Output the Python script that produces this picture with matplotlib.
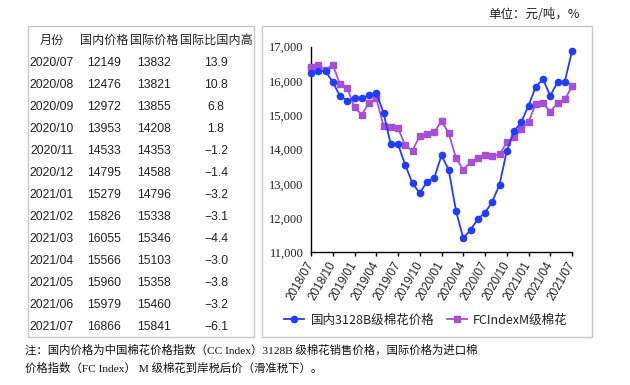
import matplotlib
matplotlib.use("Agg")
import matplotlib.pyplot as plt
from matplotlib.patches import Rectangle

# ---------------- data ----------------
months = [f"{y}/{m:02d}" for y, m in
          [(2018, m) for m in range(7, 13)] + [(2019, m) for m in range(1, 13)] +
          [(2020, m) for m in range(1, 13)] + [(2021, m) for m in range(1, 8)]]

domestic = [16220, 16280, 16300, 15960, 15570, 15415, 15500, 15500, 15580, 15660,
            15075, 14150, 14150, 13550, 13010, 12730, 13060, 13170, 13830, 13400,
            12205, 11410, 11650, 11970,
            12149, 12476, 12972, 13953, 14533, 14795, 15279, 15826, 16055, 15566,
            15960, 15979, 16866]
international = [16400, 16465, 16320, 16475, 15910, 15800, 15230, 15015, 15365, 15490,
                 14695, 14665, 14625, 14120, 13965, 14405, 14440, 14500, 14830, 14470,
                 13760, 13400, 13645, 13750,
                 13832, 13821, 13855, 14208, 14353, 14588, 14796, 15338, 15346, 15103,
                 15358, 15460, 15841]

table_months = ["2020/07", "2020/08", "2020/09", "2020/10", "2020/11", "2020/12",
                "2021/01", "2021/02", "2021/03", "2021/04", "2021/05", "2021/06", "2021/07"]
table_domestic = [12149, 12476, 12972, 13953, 14533, 14795, 15279, 15826, 16055, 15566,
                  15960, 15979, 16866]
table_intl = [13832, 13821, 13855, 14208, 14353, 14588, 14796, 15338, 15346, 15103,
              15358, 15460, 15841]
table_diff = [13.9, 10.8, 6.8, 1.8, -1.2, -1.4, -3.2, -3.1, -4.4, -3.0, -3.8, -3.2, -6.1]
table_header = ["月份", "国内价格", "国际价格", "国际比国内高"]

series_labels = ["国内3128B级棉花价格", "FCIndexM级棉花"]
unit_text = "单位：元/吨，%"
note_lines = ["注：国内价格为中国棉花价格指数（CC Index）3128B 级棉花销售价格，国际价格为进口棉",
              "价格指数（FC Index） M 级棉花到岸税后价（滑准税下）。"]

# ---------------- figure ----------------
W, H = 630, 385
fig = plt.figure(figsize=(W / 100, H / 100), dpi=100)
fig.patch.set_facecolor("white")

SANS = ["Liberation Sans", "Noto Sans CJK SC"]
SERIF = ["Liberation Serif", "Noto Sans CJK SC"]
CJK = ["Noto Sans CJK SC", "DejaVu Sans"]
TXT = "#222222"

# overlay in pixel coordinates
ov = fig.add_axes([0, 0, 1, 1], zorder=0)
ov.set_xlim(0, W)
ov.set_ylim(H, 0)
ov.axis("off")

# boxes
ov.add_patch(Rectangle((27.5, 26), 226.5, 311, fill=False, ec="#c8c8c8", lw=1))
ov.add_patch(Rectangle((261.5, 26), 330.5, 311, fill=False, ec="#c8c8c8", lw=1))

# table
col_x = [52, 104, 154, 216]
y0, dy = 40.5, 22.0
for cx, h in zip(col_x, table_header):
    ov.text(cx, y0, h, ha="center", va="center", fontsize=8.7, family=SANS, color=TXT)
for i in range(len(table_months)):
    y = y0 + dy * (i + 1)
    vals = [table_months[i], str(table_domestic[i]), str(table_intl[i]),
            f"{table_diff[i]:.1f}".replace("-", "\u2212")]
    for cx, v in zip(col_x, vals):
        ov.text(cx, y, v, ha="center", va="center", fontsize=8.7, family=SANS, color=TXT)

# unit
ov.text(580, 15, unit_text, ha="right", va="center", fontsize=9, family=CJK, color=TXT)

# footnote
ov.text(25, 350, note_lines[0], ha="left", va="center", fontsize=8.2, family=SERIF, color="#111111")
ov.text(25, 368, note_lines[1], ha="left", va="center", fontsize=8.2, family=SERIF, color="#111111")

# ---------------- chart ----------------
ax_left, ax_right, ax_top, ax_bottom = 311, 572, 46.7, 252.3
ax = fig.add_axes([ax_left / W, (H - ax_bottom) / H, (ax_right - ax_left) / W,
                   (ax_bottom - ax_top) / H], zorder=2)
ax.patch.set_alpha(0)

x = list(range(len(months)))
blue = "#1f3cff"
purple = "#a84fd8"
ax.plot(x, domestic, color=blue, lw=1.3, marker="o", ms=4.5, mec=blue, mfc=blue,
        label=series_labels[0], clip_on=False, zorder=4)
ax.plot(x, international, color=purple, lw=1.3, marker="s", ms=4.2, mec=purple, mfc=purple,
        label=series_labels[1], clip_on=False, zorder=3)

ax.set_xlim(0, len(months) - 1)
ax.set_ylim(11000, 17000)
ax.set_yticks(range(11000, 17001, 1000))
ax.set_yticklabels([f"{v:,}" for v in range(11000, 17001, 1000)], family=SERIF,
                   fontsize=9, color=TXT)
ax.tick_params(axis="y", length=0, pad=5.5)

tick_idx = list(range(0, len(months), 3))
ax.set_xticks(tick_idx)
ax.set_xticklabels([months[i] for i in tick_idx], rotation=60, ha="right", va="center",
                   rotation_mode="anchor", family=SANS, fontsize=8.5, color=TXT)
ax.tick_params(axis="x", length=3, width=1, color="black", pad=4)

for s in ["top", "right"]:
    ax.spines[s].set_visible(False)
for s in ["left", "bottom"]:
    ax.spines[s].set_color("black")
    ax.spines[s].set_linewidth(1)

leg = fig.legend(loc="center", bbox_to_anchor=(426 / W, (H - 320) / H), ncol=2,
                 frameon=False, prop={"family": CJK, "size": 9}, handlelength=1.6,
                 handletextpad=0.5, columnspacing=1.0, borderpad=0)
for t in leg.get_texts():
    t.set_color(TXT)

fig.savefig("out.png", dpi=100, facecolor="white")
